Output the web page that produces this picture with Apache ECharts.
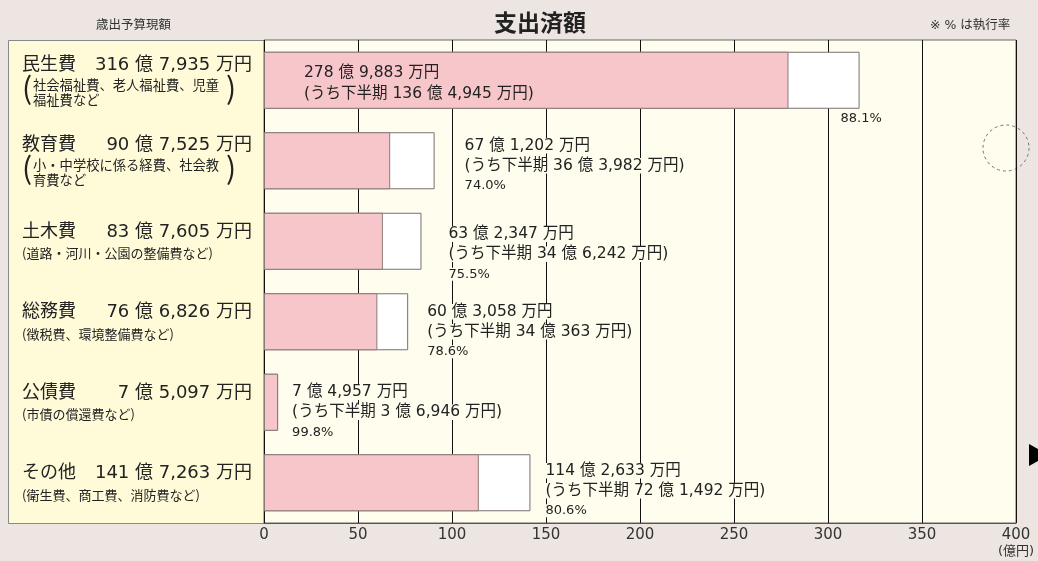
<!DOCTYPE html>
<html>
<head>
<meta charset="utf-8">
<script src="https://cdn.jsdelivr.net/npm/echarts@6/dist/echarts.min.js"></script>
<style>
  html, body { margin: 0; padding: 0; background: #ece5e1; }
  #chart { width: 1038px; height: 561px; }
</style>
</head>
<body>
<div id="chart"></div>
<script>
// 費目
const categories = ["民生費", "教育費", "土木費", "総務費", "公債費", "その他"]
const descriptions = [
  ["社会福祉費、老人福祉費、児童", "福祉費など"],
  ["小・中学校に係る経費、社会教", "育費など"],
  ["(道路・河川・公園の整備費など)"],
  ["(徴税費、環境整備費など)"],
  ["(市債の償還費など)"],
  ["(衛生費、商工費、消防費など)"]
]
// 金額（万円）
const budget = [3167935, 907525, 837605, 766826, 75097, 1417263]
const spent = [2789883, 671202, 632347, 603058, 74957, 1142633]
const secondHalf = [1364945, 363982, 346242, 340363, 36946, 721492]
// 執行率（%）
const rates = ["88.1", "74.0", "75.5", "78.6", "99.8", "80.6"]

const FONT = "'DejaVu Sans', 'Noto Sans CJK JP', sans-serif"
const CJK = "'Noto Sans CJK JP', sans-serif"
const PLOT_BG = "#fffdee"

// 万円 -> "316 億 7,935 万円"
const fmt = (v) => {
  const oku = Math.floor(v / 10000)
  const man = v % 10000
  return `${oku} 億 ${man.toLocaleString("en-US")} 万円`
}
const toOku = (v) => v / 10000

// 右側ラベルのずらし量
const labelGap = [0, 30, 27, 19, 14, 15]
const labelDrop = [0, 5, 13, 10, 10, 8]

const chart = echarts.init(document.getElementById("chart"))

const budgetData = budget.map((v, i) => {
  const item = { value: toOku(v) }
  if (i === 0) {
    item.label = {
      show: true,
      position: ["100%", "100%"],
      offset: [-19, 0],
      formatter: `{r|${rates[i]}%}`
    }
  } else {
    item.label = {
      show: true,
      position: "right",
      distance: labelGap[i],
      offset: [0, labelDrop[i]],
      formatter: `{v|${fmt(spent[i])}}\n{v|(うち下半期 ${fmt(secondHalf[i])})}\n{r|${rates[i]}%}`
    }
  }
  return item
})

const spentData = spent.map((v, i) => {
  const item = { value: toOku(v) }
  if (i === 0) {
    item.label = {
      show: true,
      position: "insideLeft",
      distance: 40,
      offset: [0, 3],
      formatter: `{w|${fmt(v)}}\n{w|(うち下半期 ${fmt(secondHalf[i])})}`
    }
  }
  return item
})

const catLabel = (name, i) => {
  const head = `{n|${name}}{a|${fmt(budget[i])}}`
  const d = descriptions[i]
  if (d.length === 2) {
    return `${head}\n{p|(}{d|${d[0]}}{p|)}\n{i| }{d2|${d[1]}}`
  }
  return `${head}\n{d1|${d[0]}}`
}

const richVal = {
  v: { fontSize: 15.5, lineHeight: 20, color: "#222", fontFamily: FONT, backgroundColor: PLOT_BG },
  r: { fontSize: 13, lineHeight: 20, color: "#222", fontFamily: FONT, backgroundColor: PLOT_BG },
  w: { fontSize: 15.5, lineHeight: 21, color: "#222", fontFamily: FONT }
}

const option = {
  backgroundColor: "#ece5e1",
  animation: false,
  title: {
    text: "支出済額",
    left: 489,
    top: 6,
    textStyle: { fontFamily: CJK, fontSize: 23, fontWeight: "bold", color: "#222" }
  },
  graphic: [
    {
      type: "rect", z: -1, silent: true,
      shape: { x: 8.5, y: 40.5, width: 256, height: 483 },
      style: { fill: "#fffbd9", stroke: "#888", lineWidth: 1 }
    },
    {
      type: "text", left: 96, top: 18,
      style: { text: "歳出予算現額", fontSize: 12.5, fill: "#333", fontFamily: CJK }
    },
    {
      type: "text", left: 930, top: 19,
      style: { text: "※ % は執行率", fontSize: 12.5, fill: "#333", fontFamily: FONT }
    },
    {
      type: "circle", silent: true,
      shape: { cx: 1006, cy: 148, r: 23 },
      style: { fill: "none", stroke: "#777", lineWidth: 1, lineDash: [3, 3] }
    },
    {
      type: "polygon", silent: true,
      shape: { points: [[1029, 444], [1038, 449], [1038, 461], [1029, 466]] },
      style: { fill: "#000" }
    }
  ],
  grid: {
    left: 264, right: 22, top: 40, bottom: 38,
    show: true, backgroundColor: PLOT_BG, borderColor: "#666", borderWidth: 1
  },
  xAxis: {
    type: "value",
    min: 0, max: 400, interval: 50,
    axisLine: { show: true, lineStyle: { color: "#555" } },
    axisTick: { show: false },
    splitLine: { show: true, lineStyle: { color: "#111", width: 1 } },
    axisLabel: {
      margin: 4,
      fontFamily: FONT, fontSize: 15, color: "#333", lineHeight: 17,
      formatter: (v) => (v === 400 ? "400\n{u|(億円)}" : String(v)),
      rich: { u: { fontSize: 13, lineHeight: 15, color: "#333", fontFamily: FONT } }
    }
  },
  yAxis: {
    type: "category",
    inverse: true,
    data: categories,
    axisLine: { show: false },
    axisTick: { show: false },
    axisLabel: {
      align: "left",
      margin: 242,
      formatter: (name) => catLabel(name, categories.indexOf(name)),
      rich: {
        n: { fontSize: 18, lineHeight: 24, width: 60, color: "#222", fontFamily: FONT },
        a: { fontSize: 18, lineHeight: 24, width: 170, align: "right", color: "#222", fontFamily: FONT },
        p: { fontSize: 30, lineHeight: 15, width: 11, verticalAlign: "top", color: "#222", fontFamily: CJK, padding: [-5, 0, 0, 0] },
        d: { fontSize: 13.3, lineHeight: 15, width: 193, color: "#222", fontFamily: CJK },
        i: { fontSize: 13, lineHeight: 15, width: 11 },
        d2: { fontSize: 13.3, lineHeight: 15, color: "#222", fontFamily: CJK },
        d1: { fontSize: 13, lineHeight: 18, color: "#222", fontFamily: CJK }
      }
    }
  },
  series: [
    {
      name: "歳出予算現額",
      type: "bar",
      barWidth: 57,
      barGap: "-100%",
      itemStyle: { color: "#ffffff", borderColor: "#7a7070", borderWidth: 1 },
      label: { rich: richVal },
      data: budgetData,
      z: 2
    },
    {
      name: "支出済額",
      type: "bar",
      barWidth: 57,
      itemStyle: { color: "#f7c6cb", borderColor: "#8a7a7a", borderWidth: 1 },
      label: { rich: richVal },
      data: spentData,
      z: 3
    }
  ]
}

chart.setOption(option)
</script>
</body>
</html>
